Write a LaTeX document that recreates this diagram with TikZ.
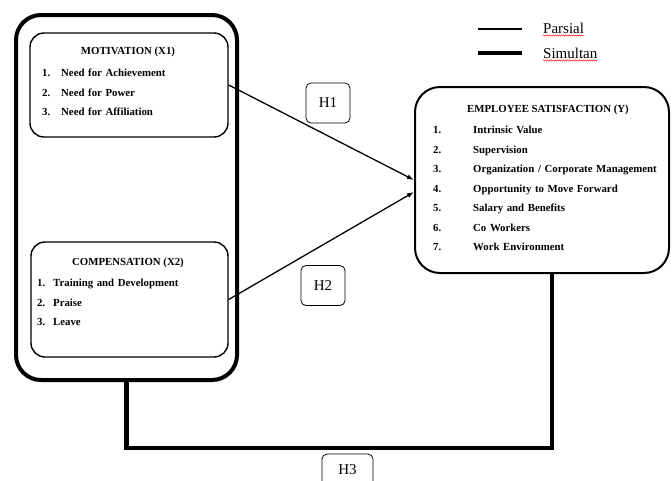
\documentclass[tikz,border=0pt]{standalone}
\usepackage{fontspec}
\setmainfont{Liberation Serif}
\usetikzlibrary{positioning, arrows.meta, decorations.pathmorphing}
\newcommand{\itemnum}[2]{\makebox[#1][l]{#2}}

\begin{document}
\begin{tikzpicture}[x=1pt, y=-1pt, node distance={19.5pt},
  box/.style = {draw, rounded corners=14pt, line width=1.4pt},
  head/.style = {font=\bfseries\fontsize{10.8}{12}\selectfont, inner sep=0pt},
  item/.style = {font=\bfseries\fontsize{10.8}{12}\selectfont, inner sep=0pt, text width=240pt, align=left, text height=8pt, text depth=2.5pt},
  hyp/.style = {draw, rounded corners=5pt, line width=0.8pt, minimum width=44pt, minimum height=40pt, font=\fontsize{15}{18}\selectfont},
  legend/.style = {anchor=base west, inner sep=0pt, font=\fontsize{15}{18}\selectfont},
  squiggle/.style = {red, line width=0.4pt, decorate, decoration={snake, amplitude=0.6pt, segment length=2pt}},
  parsial/.style = {line width=1.3pt},
  simul/.style = {line width=4.5pt}]

\useasboundingbox (0,0) rectangle (672,480);

% variable boxes
\node[draw, line width=4pt, rounded corners=25pt, minimum width=221pt, minimum height=365pt] (outer) at (126.5,197.5) {};
\node[box, minimum width=198pt, minimum height=104pt] (mot) at (129,85) {};
\node[box, minimum width=197pt, minimum height=115pt] (comp) at (129.5,299.5) {};
\node[box, line width=2pt, rounded corners=25pt, minimum width=254pt, minimum height=186pt] (emp) at (542,180) {};

% motivation
\node[head] (mtitle) at (128,52) {MOTIVATION (X1)};
\node[item, anchor=west] (m1) at (42,74) {\itemnum{19pt}{1.}Need for Achievement};
\node[item, below of=m1] (m2) {\itemnum{19pt}{2.}Need for Power};
\node[item, below of=m2] (m3) {\itemnum{19pt}{3.}Need for Affiliation};

% compensation
\node[head] (ctitle) at (128,263) {COMPENSATION (X2)};
\node[item, anchor=west] (c1) at (37,284) {\itemnum{16pt}{1.}Training and Development};
\node[item, below of=c1] (c2) {\itemnum{16pt}{2.}Praise};
\node[item, below of=c2] (c3) {\itemnum{16pt}{3.}Leave};

% employee satisfaction
\node[head] (etitle) at (548,110) {EMPLOYEE SATISFACTION (Y)};
\node[item, anchor=west] (e1) at (433,131) {\itemnum{40pt}{1.}Intrinsic Value};
\node[item, below of=e1] (e2) {\itemnum{40pt}{2.}Supervision};
\node[item, below of=e2] (e3) {\itemnum{40pt}{3.}Organization / Corporate Management};
\node[item, below of=e3] (e4) {\itemnum{40pt}{4.}Opportunity to Move Forward};
\node[item, below of=e4] (e5) {\itemnum{40pt}{5.}Salary and Benefits};
\node[item, below of=e5] (e6) {\itemnum{40pt}{6.}Co Workers};
\node[item, below of=e6] (e7) {\itemnum{40pt}{7.}Work Environment};

% hypotheses
\node[hyp] (h1) at (328,103) {H1};
\node[hyp] (h2) at (323,285.5) {H2};
\node[hyp, minimum width=51pt, minimum height=32pt] (h3) at (347.5,470) {H3};

\draw[parsial, -{Latex[length=7pt,width=5pt]}] (mot.east) -- (emp.west);
\draw[parsial, -{Latex[length=7pt,width=5pt]}] (comp.east) -- ([yshift=-12pt]emp.west);

\coordinate (turn) at (552,448);
\draw[simul] (outer.south) |- (turn) -- (turn |- emp.south);

% legend
\coordinate (pa) at (478,29);
\coordinate (pb) at (522,29);
\coordinate (sa) at (478,53);
\coordinate (sb) at (522,53);
\draw[parsial] (pa) -- (pb);
\draw[simul] (sa) -- (sb);
\node[legend] (ptext) at (543,33) {Parsial};
\node[legend] (stext) at (543,58) {Simultan};
\draw[squiggle] ([yshift=-2.5pt]ptext.base west) -- ([yshift=-2.5pt]ptext.base east);
\draw[squiggle] ([yshift=-2.5pt]stext.base west) -- ([yshift=-2.5pt]stext.base east);
\end{tikzpicture}
\end{document}
